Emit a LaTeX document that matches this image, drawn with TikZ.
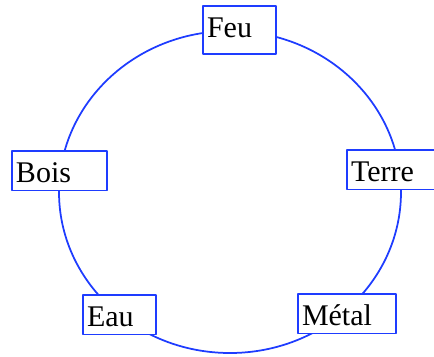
\documentclass[tikz,border=0pt]{standalone}
\usepackage{fontspec}
\setmainfont{Liberation Serif}
\definecolor{ringblue}{RGB}{30,60,255}
\begin{document}
\begin{tikzpicture}[x=0.4pt,y=-0.4pt, font=\fontsize{12}{14}\selectfont, line join=round,
	elem/.style={draw=ringblue, line width=0.7pt, fill=white, anchor=base west, outer sep=0pt,
		inner xsep=1.6pt, inner ysep=0pt, align=left, text height=12.4pt, text depth=3.4pt}]
	\def\cx{230} \def\cy{192} % centre du cercle
	\useasboundingbox (0,0) rectangle (434,356);
	\draw[ringblue, line width=0.7pt] (\cx,\cy) ellipse [x radius=68.4pt, y radius=64.4pt];
	\node[elem, text width=26pt, text depth=6.8pt] (feu) at (203,37) {Feu};
	\node[elem, text width=36.8pt] (terre) at (347,181) {Terre};
	\node[elem, text width=36pt] (metal) at (298,325) {Métal};
	\node[elem, text width=26pt] (eau) at (83,326) {Eau};
	\node[elem, text width=34.8pt] (bois) at (12,182) {Bois};
\end{tikzpicture}
\end{document}
